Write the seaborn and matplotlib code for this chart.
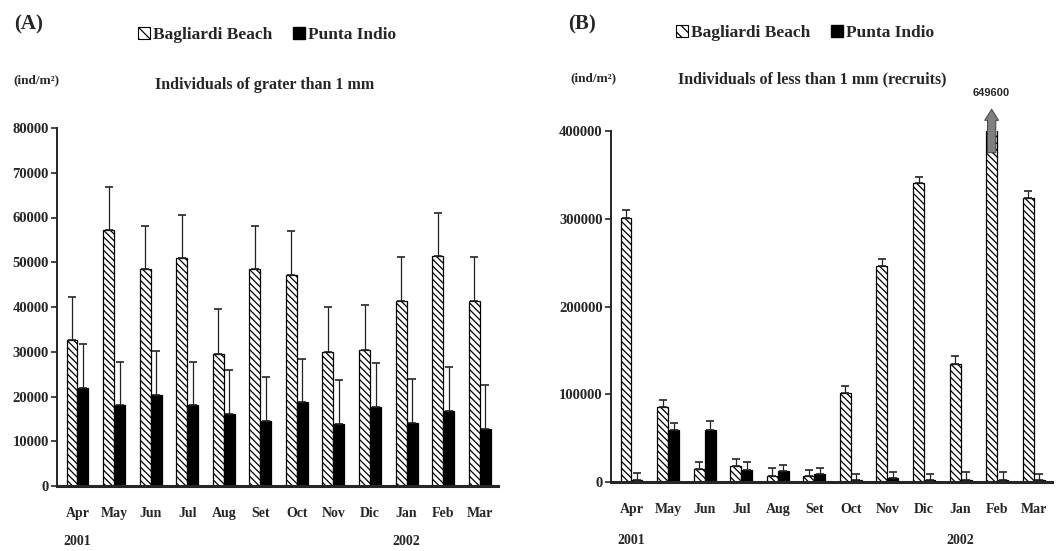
import numpy as np
import pandas as pd
import matplotlib
matplotlib.use("Agg")
import matplotlib.pyplot as plt
from matplotlib.patches import Patch
import seaborn as sns

# ---- data ----
months = ["Apr", "May", "Jun", "Jul", "Aug", "Set", "Oct", "Nov", "Dic", "Jan", "Feb", "Mar"]
sites = ["Bagliardi Beach", "Punta Indio"]

# (A) individuals > 1 mm : means and upper error-bar tops
a_bag = [32600, 57200, 48500, 50900, 29600, 48500, 47200, 30000, 30400, 41300, 51400, 41300]
a_bag_top = [42300, 66900, 58200, 60500, 39500, 58200, 56900, 39900, 40400, 51200, 61100, 51200]
a_pun = [21900, 18100, 20300, 18100, 16000, 14500, 18700, 13800, 17700, 14100, 16700, 12800]
a_pun_top = [31700, 27800, 30100, 27800, 25900, 24300, 28400, 23600, 27400, 24000, 26500, 22500]

# (B) individuals < 1 mm (recruits)
b_bag = [300400, 85500, 14400, 17900, 6500, 6500, 101900, 246000, 340300, 135000, 649600, 323200]
b_bag_top = [309900, 93900, 22800, 25900, 16000, 14100, 109500, 254000, 347900, 143300, np.nan, 331500]
b_pun = [2000, 59700, 59700, 14100, 12200, 8700, 2000, 4000, 2000, 2000, 2000, 2000]
b_pun_top = [10300, 67300, 69200, 22800, 19800, 16000, 9500, 11000, 9500, 11000, 11000, 9500]

feb_label = "649600"

sns.set_style("ticks")
plt.rcParams["font.family"] = ["Liberation Serif", "DejaVu Serif"]
plt.rcParams["font.weight"] = "bold"
plt.rcParams["hatch.linewidth"] = 0.9

HATCH = "\\\\\\\\\\"
W, H = 1056, 551


def long_df(bag, pun):
    return pd.DataFrame({
        "month": months * 2,
        "site": [sites[0]] * len(months) + [sites[1]] * len(months),
        "value": list(bag) + list(pun),
    })


def draw_panel(ax, bag, bag_top, pun, pun_top, ymax, ystep):
    sns.barplot(data=long_df(bag, pun), x="month", y="value", hue="site",
                hue_order=sites, order=months,
                palette={sites[0]: "white", sites[1]: "black"},
                edgecolor="black", linewidth=0.9, width=0.6,
                errorbar=None, legend=False, ax=ax)
    for bar in ax.containers[0]:
        bar.set_hatch(HATCH)
    for cont, vals, tops in [(ax.containers[0], bag, bag_top), (ax.containers[1], pun, pun_top)]:
        xs = np.array([b.get_x() + b.get_width() / 2 for b in cont])
        vals = np.array(vals, float)
        up = np.array(tops, float) - vals
        ok = ~np.isnan(up)
        ax.errorbar(xs[ok], vals[ok], yerr=[np.zeros(ok.sum()), up[ok]], fmt="none",
                    ecolor="#222222", elinewidth=0.9, capsize=3, capthick=1.2, zorder=1)
    ax.set_ylim(0, ymax)
    ax.set_yticks(np.arange(0, ymax + 1, ystep))
    ax.set_yticklabels([f"{int(v)}" for v in np.arange(0, ymax + 1, ystep)])
    ax.set_xlim(-0.56, 11.5)
    ax.set_xlabel("")
    ax.set_ylabel("")
    sns.despine(ax=ax)
    ax.spines["left"].set_linewidth(1.4)
    ax.spines["bottom"].set_linewidth(2.2)
    ax.tick_params(axis="y", length=4, width=1.2, pad=2, labelsize=10.5)
    ax.tick_params(axis="x", length=0, pad=15, labelsize=10)
    for t in ax.get_xticklabels() + ax.get_yticklabels():
        t.set_fontweight("bold")


fig = plt.figure(figsize=(W / 100, H / 100), dpi=100)
axA = fig.add_axes([57 / W, 1 - 486 / H, (498 - 57) / W, (486 - 128) / H])
axB = fig.add_axes([611 / W, 1 - 482 / H, (1052 - 611) / W, (482 - 131) / H])

draw_panel(axA, a_bag, a_bag_top, a_pun, a_pun_top, 80000, 10000)
draw_panel(axB, b_bag, b_bag_top, b_pun, b_pun_top, 400000, 100000)

# arrow for off-scale Feb value in (B)
feb_bar = axB.containers[0][months.index("Feb")]
fx = feb_bar.get_x() + feb_bar.get_width() / 2
axB.annotate("", xy=(fx, 428000), xytext=(fx, 372000),
             arrowprops=dict(arrowstyle="simple,head_width=1.0,head_length=0.8,tail_width=0.6",
                             fc="#7f7f7f", ec="#333333", lw=0.6),
             annotation_clip=False, zorder=5)
axB.text(fx, 438000, feb_label, ha="center", va="bottom", fontsize=8,
         family=["Liberation Sans", "DejaVu Sans"], fontweight="bold", clip_on=False)

# year labels under Apr and Jan
for ax, yy in [(axA, -0.155), (axB, -0.168)]:
    tr = ax.get_xaxis_transform()
    ax.text(months.index("Apr"), yy, "2001", transform=tr, ha="center", va="center",
            fontsize=10, fontweight="bold")
    ax.text(months.index("Jan"), yy, "2002", transform=tr, ha="center", va="center",
            fontsize=10, fontweight="bold")

# panel letters, units, titles
fig.text(29 / W, 1 - 24 / H, "(A)", ha="center", va="center", fontsize=15, fontweight="bold")
fig.text(582 / W, 1 - 24 / H, "(B)", ha="center", va="center", fontsize=15, fontweight="bold")
fig.text(36 / W, 1 - 80 / H, "(ind/m²)", ha="center", va="center", fontsize=9.5,
         fontweight="bold")
fig.text(593 / W, 1 - 78 / H, "(ind/m²)", ha="center", va="center", fontsize=9.5,
         fontweight="bold")
fig.text(265 / W, 1 - 85 / H, "Individuals of grater than 1 mm", ha="center", va="center",
         fontsize=11.5, fontweight="bold")
fig.text(812 / W, 1 - 79 / H, "Individuals of less than 1 mm (recruits)", ha="center",
         va="center", fontsize=11.5, fontweight="bold")

# legends
handles = [Patch(facecolor="white", edgecolor="black", hatch="\\\\\\", linewidth=0.8),
           Patch(facecolor="black", edgecolor="black")]
for cx, cy in [(267, 35), (805, 33)]:
    fig.legend(handles, sites, loc="center", bbox_to_anchor=(cx / W, 1 - cy / H), ncol=2,
               frameon=False, handlelength=0.7, handleheight=0.7, handletextpad=0.15,
               columnspacing=1.2, borderpad=0,
               prop={"family": "Liberation Serif", "weight": "bold", "size": 12.5})

fig.savefig("out.png", dpi=100)
